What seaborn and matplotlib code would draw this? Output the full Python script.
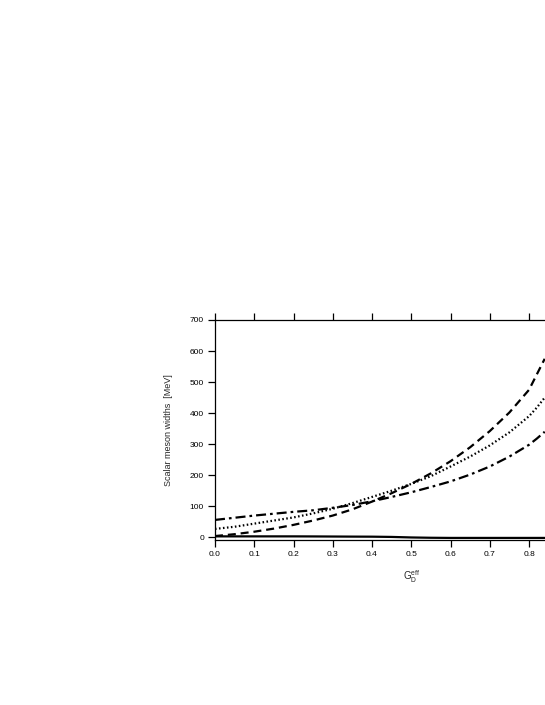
import matplotlib
matplotlib.use("Agg")
import matplotlib.pyplot as plt
import seaborn as sns
import pandas as pd

# ---- data ----
g_eff = [0.0, 0.05, 0.1, 0.15, 0.2, 0.25, 0.3, 0.35, 0.4, 0.45, 0.5,
         0.55, 0.6, 0.65, 0.7, 0.75, 0.8, 0.82, 0.84]
width_dashed = [4, 10, 18, 28, 40, 54, 70, 90, 115, 142, 172,
                206, 245, 290, 342, 402, 475, 525, 575]
width_dotted = [27, 34, 44, 54, 64, 77, 92, 110, 130, 150, 172,
                197, 228, 260, 296, 338, 390, 418, 450]
width_dashdot = [56, 63, 70, 76, 82, 87, 95, 104, 116, 130, 145,
                 162, 180, 202, 228, 260, 298, 318, 340]
width_solid = [3, 3, 3, 3, 3, 2.8, 2.5, 2.2, 2, 1.2, -0.5,
               -1.5, -2, -2, -2, -2, -2, -2, -2]

x_ticks = [0.0, 0.1, 0.2, 0.3, 0.4, 0.5, 0.6, 0.7, 0.8]
y_ticks = [0, 100, 200, 300, 400, 500, 600, 700]

series = {"dashed": width_dashed, "dotted": width_dotted,
          "dashdot": width_dashdot, "solid": width_solid}
df = pd.concat([pd.DataFrame({"G": g_eff, "width": v, "curve": k})
                for k, v in series.items()], ignore_index=True)

sns.set_style("ticks")
plt.rcParams['font.family'] = ['Liberation Sans', 'DejaVu Sans']
plt.rcParams['mathtext.fontset'] = 'custom'
plt.rcParams['mathtext.rm'] = 'Liberation Sans'
plt.rcParams['mathtext.it'] = 'Liberation Sans'

fig = plt.figure(figsize=(5.45, 7.05), dpi=100)
# axes extends beyond the right edge of the figure (clipped as in reference)
left = 215 / 545
right = (215 + 392.5) / 545
bottom = (705 - 540) / 705
top = (705 - 320) / 705
ax = fig.add_axes([left, bottom, right - left, top - bottom])

sns.lineplot(data=df, x="G", y="width", style="curve",
             dashes={"dashed": (3.6, 2.2), "dotted": (0.7, 1.1),
                     "dashdot": (4.5, 1.8, 1.2, 1.8), "solid": ""},
             color="black", linewidth=1.6, legend=False, ax=ax)

ax.set_xlim(0.0, 1.0)
ax.set_ylim(-8.7, 700)
ax.set_xticks(x_ticks)
ax.set_xticklabels([f"{t:.1f}" for t in x_ticks])
ax.set_yticks(y_ticks)
ax.set_yticklabels([str(t) for t in y_ticks])

ax.tick_params(axis="both", direction="out", length=5, width=0.9,
               labelsize=6, pad=3, color="black", labelcolor="black")
ax.tick_params(axis="x", top=True, labeltop=False)
ax.spines["right"].set_visible(False)
for s in ["left", "top", "bottom"]:
    ax.spines[s].set_linewidth(0.9)
    ax.spines[s].set_color("black")

ax.set_xlabel(r"G$_{\mathrm{D}}^{\mathrm{eff}}$", fontsize=7, labelpad=7)
ax.set_ylabel("Scalar meson widths  [MeV]", fontsize=6.5, labelpad=12)

fig.savefig("out.png", dpi=100)
